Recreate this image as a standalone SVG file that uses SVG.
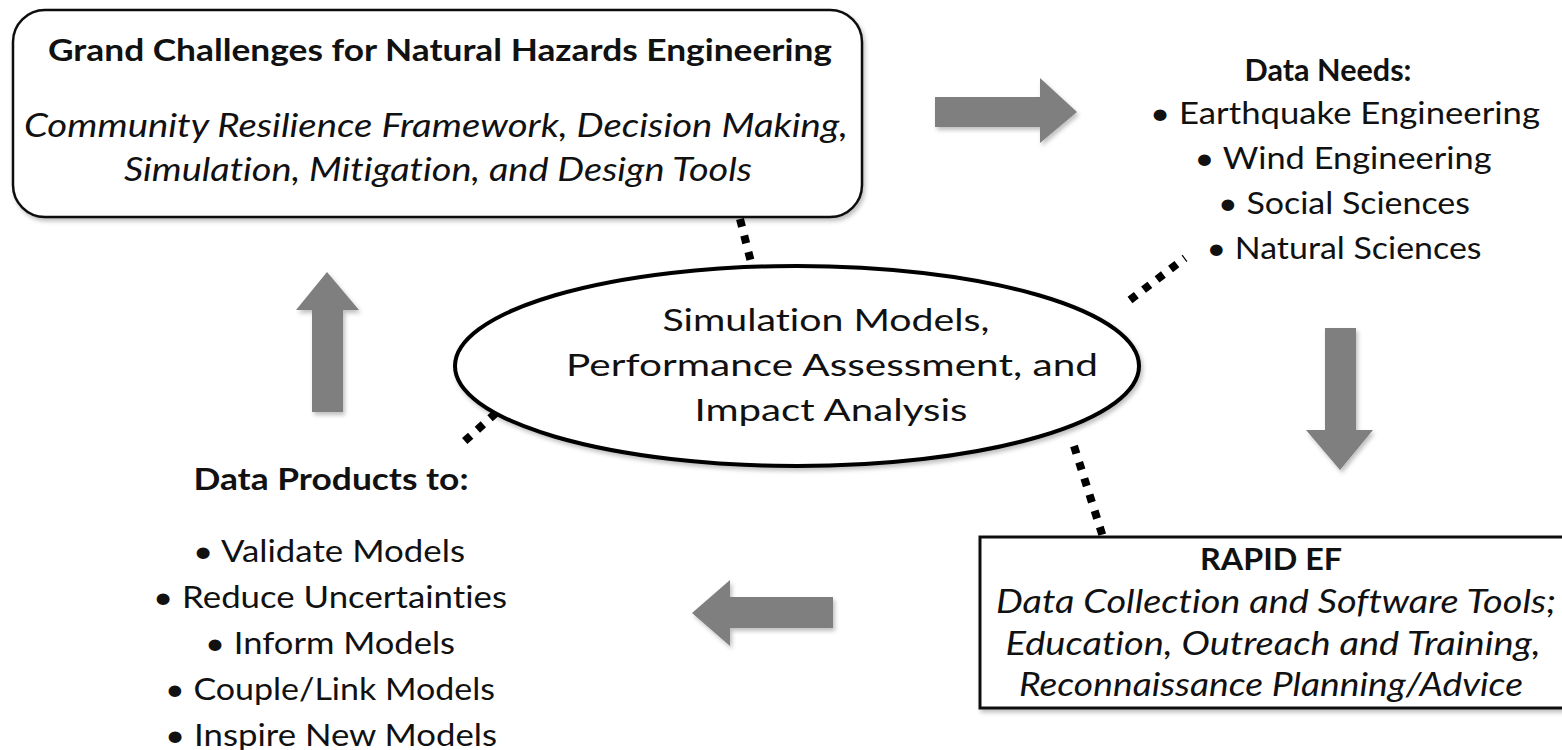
<svg xmlns="http://www.w3.org/2000/svg" width="1562" height="750" viewBox="0 0 1562 750">
<style>
text{font-family:Lato,"Open Sans","Liberation Sans",sans-serif;fill:#111;text-anchor:middle;font-variant-ligatures:none;font-feature-settings:"liga" 0,"dlig" 0}
.b{font-weight:bold;font-size:30px}
.i{font-style:italic;font-size:33px}
.r{font-size:31px}
.arrow{fill:#7f7f7f}
.dot{stroke:#000;stroke-width:8;stroke-dasharray:8 9;fill:none}
</style>
<defs>
<filter id="sh" x="-10%" y="-10%" width="130%" height="130%">
<feDropShadow dx="2" dy="3" stdDeviation="2" flood-color="#000" flood-opacity="0.25"/>
</filter>
</defs>
<g id="connectors">
<line class="dot" x1="740" y1="219" x2="752" y2="266"/>
<line class="dot" x1="1130" y1="300" x2="1185" y2="258"/>
<line class="dot" x1="1074" y1="446" x2="1103" y2="537"/>
<line class="dot" x1="496" y1="413" x2="458" y2="447"/>
<polygon class="arrow" filter="url(#sh)" points="935,97 1040,97 1040,78 1077,112 1040,143 1040,127 935,127"/>
<polygon class="arrow" filter="url(#sh)" points="1325,328 1356,328 1356,430 1373,430 1340,470 1306,430 1325,430"/>
<polygon class="arrow" filter="url(#sh)" points="833,597 833,628 730,628 730,646 692,613 730,580 730,597"/>
<polygon class="arrow" filter="url(#sh)" points="312,412 343,412 343,310 359,310 327,272 296,310 312,310"/>
</g>
<g id="grand-challenges">
<rect x="13" y="10" width="849" height="207" rx="32" fill="#fff" stroke="#111" stroke-width="2.5" filter="url(#sh)"/>
<text class="b" x="440" y="61" textLength="784" lengthAdjust="spacingAndGlyphs">Grand Challenges for Natural Hazards Engineering</text>
<text class="i" x="436" y="137" textLength="824" lengthAdjust="spacingAndGlyphs">Community Resilience Framework, Decision Making,</text>
<text class="i" x="438" y="181" textLength="628" lengthAdjust="spacingAndGlyphs">Simulation, Mitigation, and Design Tools</text>
</g>
<g id="data-needs">
<text class="b" x="1328" y="81" textLength="167" lengthAdjust="spacingAndGlyphs">Data Needs:</text>
<text class="r" x="1345" y="124" textLength="390" lengthAdjust="spacingAndGlyphs">• Earthquake Engineering</text>
<text class="r" x="1343" y="169" textLength="297" lengthAdjust="spacingAndGlyphs">• Wind Engineering</text>
<text class="r" x="1344" y="214" textLength="252" lengthAdjust="spacingAndGlyphs">• Social Sciences</text>
<text class="r" x="1344" y="259" textLength="275" lengthAdjust="spacingAndGlyphs">• Natural Sciences</text>
</g>
<g id="simulation">
<ellipse cx="797" cy="366" rx="342" ry="100" fill="#fff" stroke="#000" stroke-width="4" filter="url(#sh)"/>
<text class="r" x="826" y="331" font-size="34" textLength="327" lengthAdjust="spacingAndGlyphs">Simulation Models,</text>
<text class="r" x="832" y="376" font-size="34" textLength="532" lengthAdjust="spacingAndGlyphs">Performance Assessment, and</text>
<text class="r" x="831" y="421" font-size="34" textLength="273" lengthAdjust="spacingAndGlyphs">Impact Analysis</text>
</g>
<g id="rapid-ef">
<rect x="980" y="537" width="600" height="171" fill="#fff" stroke="#111" stroke-width="3" filter="url(#sh)"/>
<text class="b" x="1271" y="570" textLength="142" lengthAdjust="spacingAndGlyphs">RAPID EF</text>
<text class="i" x="1276" y="613" font-size="32" textLength="560" lengthAdjust="spacingAndGlyphs">Data Collection and Software Tools;</text>
<text class="i" x="1273" y="655" font-size="32" textLength="535" lengthAdjust="spacingAndGlyphs">Education, Outreach and Training,</text>
<text class="i" x="1271" y="696" font-size="32" textLength="504" lengthAdjust="spacingAndGlyphs">Reconnaissance Planning/Advice</text>
</g>
<g id="data-products">
<text class="b" x="331" y="490" textLength="275" lengthAdjust="spacingAndGlyphs">Data Products to:</text>
<text class="r" x="329" y="562" textLength="272" lengthAdjust="spacingAndGlyphs">• Validate Models</text>
<text class="r" x="330" y="608" textLength="354" lengthAdjust="spacingAndGlyphs">• Reduce Uncertainties</text>
<text class="r" x="330" y="654" textLength="250" lengthAdjust="spacingAndGlyphs">• Inform Models</text>
<text class="r" x="330" y="700" textLength="330" lengthAdjust="spacingAndGlyphs">• Couple/Link Models</text>
<text class="r" x="331" y="746" textLength="332" lengthAdjust="spacingAndGlyphs">• Inspire New Models</text>
</g>
</svg>
